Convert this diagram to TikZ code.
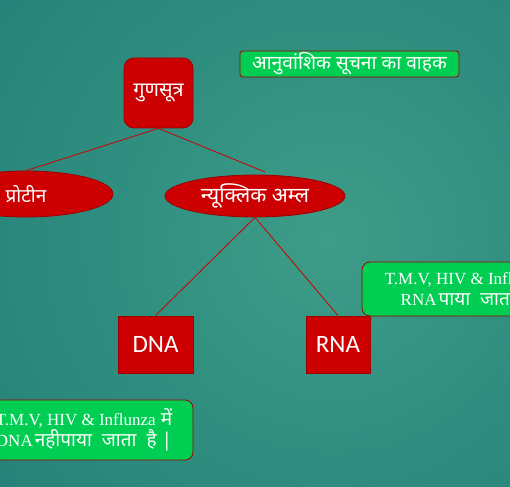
\documentclass[tikz,border=0pt]{standalone}
\usepackage{fontspec}
\usetikzlibrary{shapes.geometric}
\newfontfamily\deva[Script=Devanagari]{Noto Sans}
\newfontfamily\tnr{Liberation Serif}
\newfontfamily\carl{Carlito}
\definecolor{bgA}{HTML}{3E9C88}
\definecolor{bgB}{HTML}{308E80}
\definecolor{bgC}{HTML}{248077}
\definecolor{bgD}{HTML}{1A706F}
\definecolor{bgE}{HTML}{0E525E}
\definecolor{bgF}{HTML}{0B4A57}
\definecolor{myred}{HTML}{CC0000}
\definecolor{darkred}{HTML}{9A0000}
\definecolor{mygreen}{HTML}{00CE52}
\pgfdeclareradialshading{bgsh}{\pgfpoint{0bp}{0bp}}{color(0bp)=(bgA); color(12bp)=(bgB); color(25bp)=(bgC); color(32bp)=(bgD); color(45bp)=(bgE); color(50bp)=(bgF)}
\tikzset{
  redbox/.style={fill=myred, draw=darkred, line width=0.8pt, text=white, inner sep=0pt},
  greenbox/.style={fill=mygreen, draw=darkred, line width=0.8pt, text=white, inner sep=0pt},
  link/.style={draw=myred, line width=0.8pt},
}
\begin{document}
\begin{tikzpicture}[x=1pt,y=-1pt]
\useasboundingbox (0,0) rectangle (510,486);
\clip (0,0) rectangle (510,486);
\shade[shading=bgsh] (330,240) circle (450pt);

\node[redbox, rounded corners=10pt, minimum width=69pt, minimum height=70pt, font=\deva\bfseries\fontsize{20}{24}\selectfont] (g) at (158.5,93) {गुणसूत्र};
\node[greenbox, rounded corners=3pt, minimum width=219pt, minimum height=26pt, font=\deva\bfseries\fontsize{19.2}{22}\selectfont] (h) at (349.5,64) {आनुवांशिक सूचना का वाहक};
\node[redbox, ellipse, minimum width=174pt, minimum height=46pt, font=\deva\bfseries\fontsize{19}{22}\selectfont] (p) at (26,194) {प्रोटीन};
\node[redbox, ellipse, minimum width=180pt, minimum height=42pt, font=\deva\bfseries\fontsize{21}{24}\selectfont] (n) at (255,196) {न्यूक्लिक अम्ल};
\node[redbox, minimum width=75pt, minimum height=57pt, font=\carl\fontsize{25}{28}\selectfont] (d) at (155.5,344.5) {DNA};
\node[redbox, minimum width=64pt, minimum height=57pt, font=\carl\fontsize{25}{28}\selectfont] (r) at (338,344.5) {RNA};
\node[greenbox, rounded corners=8pt, minimum width=222pt, minimum height=54pt, align=center, font=\fontsize{17}{21}\selectfont] (rt) at (473,289)
  {{\tnr T.M.V, HIV \& Influnza} {\deva\fontsize{19}{21}\selectfont में}\\{\tnr RNA}\kern2pt{\deva\fontsize{19}{21}\selectfont पाया~ जाता है |}};
\node[greenbox, rounded corners=8pt, minimum width=218pt, minimum height=60pt, align=center, font=\fontsize{17}{21}\selectfont] (lt) at (84,430)
  {{\tnr T.M.V, HIV \& Influnza} {\deva\fontsize{19}{21}\selectfont में}\\{\tnr DNA}\kern2pt{\deva\fontsize{19}{21}\selectfont नहीपाया~ जाता~ है |}};

\coordinate (nt) at (265,172);
\draw[link] (g.south) -- (p.north);
\draw[link] (g.south) -- (nt);
\draw[link] (n.south) -- (d.north);
\draw[link] (n.south) -- (r.north);
\end{tikzpicture}
\end{document}
